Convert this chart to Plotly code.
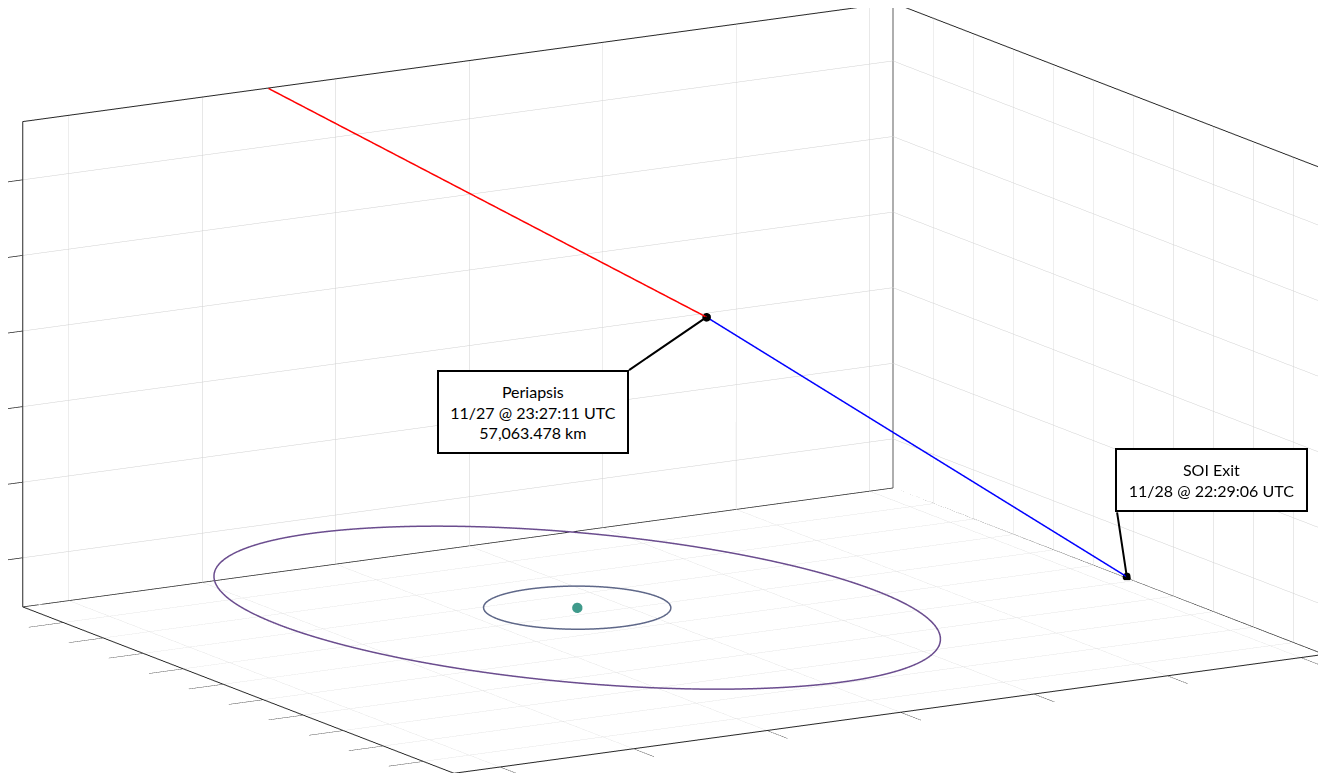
import numpy as np
import plotly.graph_objects as go

# ---- axis ticks / limits (km) ----
x_ticks = [-40000, -20000, 0, 20000, 40000, 60000, 80000]
y_ticks = [-50000, -40000, -30000, -20000, -10000, 0, 10000, 20000, 30000, 40000]
z_ticks = [0, 10000, 20000, 30000, 40000, 50000]
x_range = [-46900, 83500]
y_range = [-57680, 50120]
z_range = [-6500, 57700]

# ---- central body ----
body_center = [3870, -3780, -1720]

# ---- orbits: centre + cos(t)*axis_a + sin(t)*axis_b ----
inner_orbit_axis_a = [10340, -6160, 0]
inner_orbit_axis_b = [6160, 10340, 0]
outer_orbit_axis_a = [39560, -24800, -4000]
outer_orbit_axis_b = [24540, 39720, -1180]

# ---- hyperbolic trajectory (km) ----
inbound_x = [-10090, 37550]
inbound_y = [50100, 20070]
inbound_z = [57650, 27780]
outbound_x = [37550, 83150]
outbound_y = [20070, -8930]
outbound_z = [27780, -6150]

periapsis = [37550, 20070, 27780]
soi_exit = [83150, -8930, -6150]
periapsis_text = "Periapsis<br>11/27 @ 23:27:11 UTC<br>57,063.478 km"
soi_text = "SOI Exit<br>11/28 @ 22:29:06 UTC"


def orbit(center, a, b, n=721):
    t = np.linspace(0, 2 * np.pi, n)
    c = np.array(center)[:, None]
    pts = c + np.outer(a, np.cos(t)) + np.outer(b, np.sin(t))
    return pts


fig = go.Figure()

# back edges of the axes box (MATLAB "box on"), derived from the axis limits
x0, x1 = x_range
y0, y1 = y_range
z0, z1 = z_range
edge_x = [x0, x1, x1, None, x1, x1, None, x1, x1, None, x0, x1, x1]
edge_y = [y1, y1, y0, None, y1, y1, None, y0, y0, None, y1, y1, y0]
edge_z = [z0, z0, z0, None, z0, z1, None, z0, z1, None, z1, z1, z1]
fig.add_trace(go.Scatter3d(x=edge_x, y=edge_y, z=edge_z, mode="lines",
                           line=dict(color="#262626", width=1.5), showlegend=False, hoverinfo="skip"))

outer = orbit(body_center, outer_orbit_axis_a, outer_orbit_axis_b)
inner = orbit(body_center, inner_orbit_axis_a, inner_orbit_axis_b)

fig.add_trace(go.Scatter3d(x=outer[0], y=outer[1], z=outer[2], mode="lines",
                           line=dict(color="#6a4c8e", width=3), showlegend=False, hoverinfo="skip"))
fig.add_trace(go.Scatter3d(x=inner[0], y=inner[1], z=inner[2], mode="lines",
                           line=dict(color="#5e6788", width=3), showlegend=False, hoverinfo="skip"))
fig.add_trace(go.Scatter3d(x=[body_center[0]], y=[body_center[1]], z=[body_center[2]], mode="markers",
                           marker=dict(color="#3f9a8b", size=6, line=dict(width=0)), showlegend=False))
fig.add_trace(go.Scatter3d(x=inbound_x, y=inbound_y, z=inbound_z, mode="lines",
                           line=dict(color="#ff0000", width=3), showlegend=False))
fig.add_trace(go.Scatter3d(x=outbound_x, y=outbound_y, z=outbound_z, mode="lines",
                           line=dict(color="#0000ff", width=3), showlegend=False))
fig.add_trace(go.Scatter3d(x=[periapsis[0], soi_exit[0]], y=[periapsis[1], soi_exit[1]],
                           z=[periapsis[2], soi_exit[2]], mode="markers",
                           marker=dict(color="black", size=5, line=dict(width=0)), showlegend=False))

axis_common = dict(
    showbackground=True, backgroundcolor="white",
    showgrid=True, gridcolor="rgb(208,208,208)", gridwidth=1,
    showline=True, linecolor="#262626", linewidth=2, mirror=True,
    ticks="outside", ticklen=40, tickwidth=1.5, tickcolor="#262626",
    showticklabels=False, title=dict(text=""), zeroline=False, showspikes=False,
    autorange=False,
)

lab_font = dict(family="Lato, Open Sans, sans-serif", size=16, color="black")
annotations = [
    dict(x=periapsis[0], y=periapsis[1], z=periapsis[2], text="", showarrow=True,
         ax=-79, ay=54, arrowcolor="black", arrowwidth=2, arrowhead=0, standoff=0),
    dict(x=periapsis[0], y=periapsis[1], z=periapsis[2], text=periapsis_text, showarrow=False,
         xshift=-174, yshift=-95, bgcolor="white", bordercolor="black", borderwidth=2,
         width=186, height=78, font=lab_font),
    dict(x=soi_exit[0], y=soi_exit[1], z=soi_exit[2], text="", showarrow=True,
         ax=-10, ay=-66, arrowcolor="black", arrowwidth=2, arrowhead=0, standoff=0),
    dict(x=soi_exit[0], y=soi_exit[1], z=soi_exit[2], text=soi_text, showarrow=False,
         xshift=85, yshift=97, bgcolor="white", bordercolor="black", borderwidth=2,
         width=187, height=58, font=lab_font),
]

eye_dir = np.array([-0.4985, -0.8364, 0.228])
eye = eye_dir * 10.0
k = 2.62

fig.update_layout(
    width=1326, height=773, margin=dict(l=0, r=0, t=0, b=0),
    paper_bgcolor="white",
    scene=dict(
        domain=dict(x=[0, 1], y=[0, 1]),
        xaxis=dict(range=x_range, tickvals=x_ticks, **axis_common),
        yaxis=dict(range=y_range, tickvals=y_ticks, **axis_common),
        zaxis=dict(range=z_range, tickvals=z_ticks, **axis_common),
        aspectmode="manual",
        aspectratio=dict(x=1.0 * k, y=0.8327 * k, z=0.4924 * k),
        camera=dict(eye=dict(x=eye[0], y=eye[1], z=eye[2]), up=dict(x=0, y=0, z=1),
                    center=dict(x=-0.0075, y=0.0, z=-0.0164),
                    projection=dict(type="orthographic")),
        annotations=annotations,
    ),
)

fig.write_html("out.html")
